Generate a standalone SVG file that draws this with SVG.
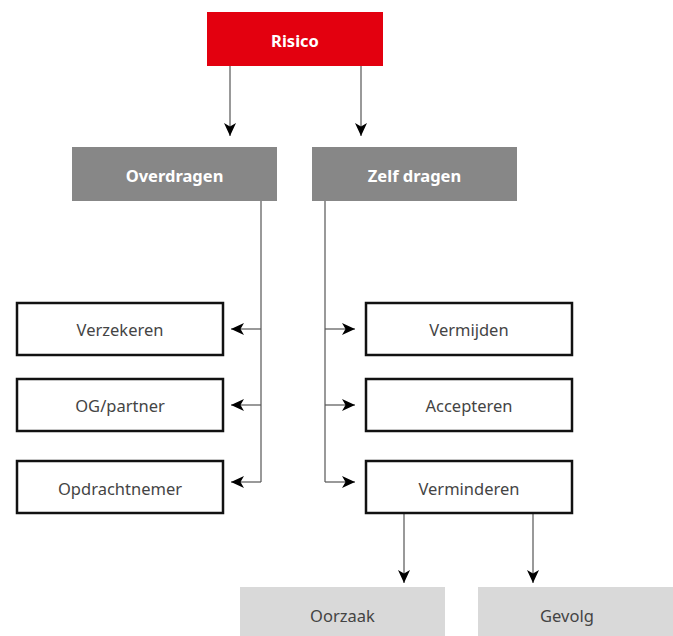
<svg xmlns="http://www.w3.org/2000/svg" width="673" height="636" viewBox="0 0 673 636">
<style>
.t{font-family:"Noto Sans","Open Sans","Liberation Sans",sans-serif;font-size:16.5px;text-anchor:middle;dominant-baseline:central}
.w{fill:#fff;font-weight:bold}
.d{fill:#444}
.box{fill:#fff;stroke:#111;stroke-width:2.5}
.c{fill:none;stroke:#555;stroke-width:1.2}
</style>
<defs>
<marker id="ah" markerUnits="userSpaceOnUse" markerWidth="14" markerHeight="14" viewBox="0 0 14 14" refX="13" refY="7" orient="auto">
<path d="M0,1 L13,7 L0,13 L3.5,7 Z" fill="#000"/>
</marker>
</defs>
<rect width="673" height="636" fill="#fff"/>
<g id="connectors">
<line class="c" x1="230" y1="66" x2="230" y2="136" marker-end="url(#ah)"/>
<line class="c" x1="361" y1="66" x2="361" y2="136" marker-end="url(#ah)"/>
<path class="c" d="M261,201 V482"/>
<line class="c" x1="261" y1="329" x2="231" y2="329" marker-end="url(#ah)"/>
<line class="c" x1="261" y1="405" x2="231" y2="405" marker-end="url(#ah)"/>
<line class="c" x1="261" y1="482" x2="231" y2="482" marker-end="url(#ah)"/>
<path class="c" d="M325,201 V482"/>
<line class="c" x1="325" y1="329" x2="355" y2="329" marker-end="url(#ah)"/>
<line class="c" x1="325" y1="405" x2="355" y2="405" marker-end="url(#ah)"/>
<line class="c" x1="325" y1="482" x2="355" y2="482" marker-end="url(#ah)"/>
<line class="c" x1="404" y1="513" x2="404" y2="583" marker-end="url(#ah)"/>
<line class="c" x1="533" y1="513" x2="533" y2="583" marker-end="url(#ah)"/>
</g>
<g id="risico"><rect x="207" y="12" width="176" height="54" fill="#e3000f"/><text class="t w" x="295" y="40">Risico</text></g>
<g id="overdragen"><rect x="72" y="147" width="205" height="54" fill="#878787"/><text class="t w" x="174.5" y="175">Overdragen</text></g>
<g id="zelfdragen"><rect x="312" y="147" width="205" height="54" fill="#878787"/><text class="t w" x="414.5" y="175">Zelf dragen</text></g>
<g id="verzekeren"><rect class="box" x="17" y="303" width="206" height="52"/><text class="t d" x="120" y="329">Verzekeren</text></g>
<g id="ogpartner"><rect class="box" x="17" y="379" width="206" height="52"/><text class="t d" x="120" y="405">OG/partner</text></g>
<g id="opdrachtnemer"><rect class="box" x="17" y="461" width="206" height="52"/><text class="t d" x="120" y="488">Opdrachtnemer</text></g>
<g id="vermijden"><rect class="box" x="366" y="303" width="206" height="52"/><text class="t d" x="469" y="329">Vermijden</text></g>
<g id="accepteren"><rect class="box" x="366" y="379" width="206" height="52"/><text class="t d" x="469" y="405">Accepteren</text></g>
<g id="verminderen"><rect class="box" x="366" y="461" width="206" height="52"/><text class="t d" x="469" y="488">Verminderen</text></g>
<g id="oorzaak"><rect x="240" y="587" width="205" height="54" fill="#d9d9d9"/><text class="t d" x="342.5" y="615">Oorzaak</text></g>
<g id="gevolg"><rect x="478" y="587" width="195" height="54" fill="#d9d9d9"/><text class="t d" x="567" y="615">Gevolg</text></g>
</svg>
